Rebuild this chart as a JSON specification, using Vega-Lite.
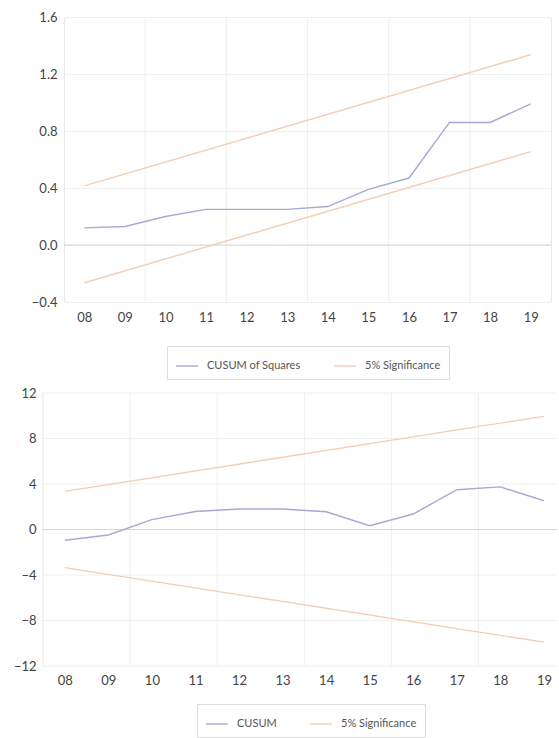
{
  "$schema": "https://vega.github.io/schema/vega-lite/v6.json",
  "padding": {"left": 5, "top": 10, "right": 0, "bottom": 0},
  "background": "white",
  "spacing": 7,
  "config": {
    "view": {"stroke": "#e8e8e8"},
    "axis": {"labelFont": "Lato", "labelFontSize": 13, "labelColor": "#444444", "ticks": false, "domain": false, "gridColor": "#f0f0f0", "labelFlush": false, "labelOverlap": false},
    "legend": {"labelFont": "Lato", "labelFontSize": 11, "labelColor": "#555555", "layout": {"bottom": {"anchor": "middle"}}}
  },
  "resolve": {"scale": {"color": "independent", "x": "independent", "y": "independent"}, "legend": {"color": "independent"}},
  "datasets": {
    "grid": [{"t": 2010}, {"t": 2012}, {"t": 2014}, {"t": 2016}, {"t": 2018}],
    "zero": [{"v": 0}],
    "ygrid": [{"v": -12}, {"v": -8}, {"v": -4}, {"v": 4}, {"v": 8}, {"v": 12}],
    "sq": [
      {"t": 2008.5, "v": 0.12, "s": "CUSUM of Squares", "p": "main"},
      {"t": 2009.5, "v": 0.13, "s": "CUSUM of Squares", "p": "main"},
      {"t": 2010.5, "v": 0.2, "s": "CUSUM of Squares", "p": "main"},
      {"t": 2011.5, "v": 0.25, "s": "CUSUM of Squares", "p": "main"},
      {"t": 2012.5, "v": 0.25, "s": "CUSUM of Squares", "p": "main"},
      {"t": 2013.5, "v": 0.25, "s": "CUSUM of Squares", "p": "main"},
      {"t": 2014.5, "v": 0.27, "s": "CUSUM of Squares", "p": "main"},
      {"t": 2015.5, "v": 0.39, "s": "CUSUM of Squares", "p": "main"},
      {"t": 2016.5, "v": 0.47, "s": "CUSUM of Squares", "p": "main"},
      {"t": 2017.5, "v": 0.86, "s": "CUSUM of Squares", "p": "main"},
      {"t": 2018.5, "v": 0.86, "s": "CUSUM of Squares", "p": "main"},
      {"t": 2019.5, "v": 0.99, "s": "CUSUM of Squares", "p": "main"},
      {"t": 2008.5, "v": 0.415, "s": "5% Significance", "p": "upper"},
      {"t": 2019.5, "v": 1.335, "s": "5% Significance", "p": "upper"},
      {"t": 2008.5, "v": -0.265, "s": "5% Significance", "p": "lower"},
      {"t": 2019.5, "v": 0.655, "s": "5% Significance", "p": "lower"}
    ],
    "cu": [
      {"t": 2008.5, "v": -0.95, "s": "CUSUM", "p": "main"},
      {"t": 2009.5, "v": -0.48, "s": "CUSUM", "p": "main"},
      {"t": 2010.5, "v": 0.87, "s": "CUSUM", "p": "main"},
      {"t": 2011.5, "v": 1.58, "s": "CUSUM", "p": "main"},
      {"t": 2012.5, "v": 1.8, "s": "CUSUM", "p": "main"},
      {"t": 2013.5, "v": 1.8, "s": "CUSUM", "p": "main"},
      {"t": 2014.5, "v": 1.56, "s": "CUSUM", "p": "main"},
      {"t": 2015.5, "v": 0.33, "s": "CUSUM", "p": "main"},
      {"t": 2016.5, "v": 1.36, "s": "CUSUM", "p": "main"},
      {"t": 2017.5, "v": 3.5, "s": "CUSUM", "p": "main"},
      {"t": 2018.5, "v": 3.75, "s": "CUSUM", "p": "main"},
      {"t": 2019.5, "v": 2.53, "s": "CUSUM", "p": "main"},
      {"t": 2008.5, "v": 3.35, "s": "5% Significance", "p": "upper"},
      {"t": 2019.5, "v": 9.95, "s": "5% Significance", "p": "upper"},
      {"t": 2008.5, "v": -3.35, "s": "5% Significance", "p": "lower"},
      {"t": 2019.5, "v": -9.9, "s": "5% Significance", "p": "lower"}
    ]
  },
  "vconcat": [
    {
      "width": 487,
      "height": 285,
      "layer": [
        {
          "data": {"name": "grid"},
          "mark": {"type": "rule", "color": "#f0f0f0", "strokeWidth": 1},
          "encoding": {"x": {"field": "t", "type": "quantitative", "scale": {"domain": [2008, 2020], "nice": false, "zero": false}}}
        },
        {
          "data": {"name": "zero"},
          "mark": {"type": "rule", "color": "#d6d6d6", "strokeWidth": 1},
          "encoding": {"y": {"field": "v", "type": "quantitative", "scale": {"domain": [-0.4, 1.6], "nice": false}}}
        },
        {
          "data": {"name": "sq"},
          "mark": {"type": "line", "strokeWidth": 1.4},
          "encoding": {
            "x": {"field": "t", "type": "quantitative", "scale": {"domain": [2008, 2020], "nice": false, "zero": false},
              "axis": {"title": null, "grid": false, "values": [2008.5, 2009.5, 2010.5, 2011.5, 2012.5, 2013.5, 2014.5, 2015.5, 2016.5, 2017.5, 2018.5, 2019.5], "labelExpr": "slice(toString(floor(datum.value)), 2)", "labelPadding": 9}},
            "y": {"field": "v", "type": "quantitative", "scale": {"domain": [-0.4, 1.6], "nice": false},
              "axis": {"title": null, "grid": true, "values": [-0.4, 0, 0.4, 0.8, 1.2, 1.6], "format": ".1f", "labelPadding": 7, "minExtent": 58, "maxExtent": 58}},
            "color": {"field": "s", "type": "nominal", "scale": {"domain": ["CUSUM of Squares", "5% Significance"], "range": ["#a6a9d6", "#f4cdb2"]},
              "legend": {"title": null, "orient": "bottom", "direction": "horizontal", "symbolType": "stroke", "symbolSize": 484, "symbolStrokeWidth": 1.4, "strokeColor": "#dddddd", "padding": 8, "offset": 22, "columnPadding": 30, "labelOffset": 8}},
            "detail": {"field": "p", "type": "nominal"}
          }
        }
      ]
    },
    {
      "width": 493,
      "height": 273,
      "view": {"stroke": null},
      "layer": [
        {
          "data": {"name": "grid"},
          "mark": {"type": "rule", "color": "#f0f0f0", "strokeWidth": 1},
          "encoding": {"x": {"field": "t", "type": "quantitative", "scale": {"domain": [2008, 2019.8], "range": [-21, 493], "nice": false, "zero": false}}}
        },
        {
          "data": {"name": "zero"},
          "mark": {"type": "rule", "color": "#e8e8e8", "strokeWidth": 1},
          "encoding": {"x": {"datum": 2008, "type": "quantitative"}}
        },
        {
          "data": {"name": "ygrid"},
          "mark": {"type": "rule", "color": "#f0f0f0", "strokeWidth": 1},
          "encoding": {
            "y": {"field": "v", "type": "quantitative", "scale": {"domain": [-12, 12], "nice": false}},
            "x": {"datum": 2008, "type": "quantitative"},
            "x2": {"datum": 2019.8}
          }
        },
        {
          "data": {"name": "zero"},
          "mark": {"type": "rule", "color": "#d6d6d6", "strokeWidth": 1},
          "encoding": {
            "y": {"field": "v", "type": "quantitative"},
            "x": {"datum": 2008, "type": "quantitative"},
            "x2": {"datum": 2019.8}
          }
        },
        {
          "data": {"name": "cu"},
          "mark": {"type": "line", "strokeWidth": 1.4},
          "encoding": {
            "x": {"field": "t", "type": "quantitative", "scale": {"domain": [2008, 2019.8], "range": [-21, 493], "nice": false, "zero": false},
              "axis": {"title": null, "grid": false, "values": [2008.5, 2009.5, 2010.5, 2011.5, 2012.5, 2013.5, 2014.5, 2015.5, 2016.5, 2017.5, 2018.5, 2019.5], "labelExpr": "slice(toString(floor(datum.value)), 2)", "labelPadding": 8}},
            "y": {"field": "v", "type": "quantitative", "scale": {"domain": [-12, 12], "nice": false},
              "axis": {"title": null, "grid": false, "values": [-12, -8, -4, 0, 4, 8, 12], "format": "d", "labelPadding": 7, "offset": 21}},
            "color": {"field": "s", "type": "nominal", "scale": {"domain": ["CUSUM", "5% Significance"], "range": ["#a6a9d6", "#f4cdb2"]},
              "legend": {"title": null, "orient": "bottom", "direction": "horizontal", "symbolType": "stroke", "symbolSize": 484, "symbolStrokeWidth": 1.4, "strokeColor": "#dddddd", "padding": 8, "offset": 17, "columnPadding": 30, "labelOffset": 8}},
            "detail": {"field": "p", "type": "nominal"}
          }
        }
      ]
    }
  ]
}
